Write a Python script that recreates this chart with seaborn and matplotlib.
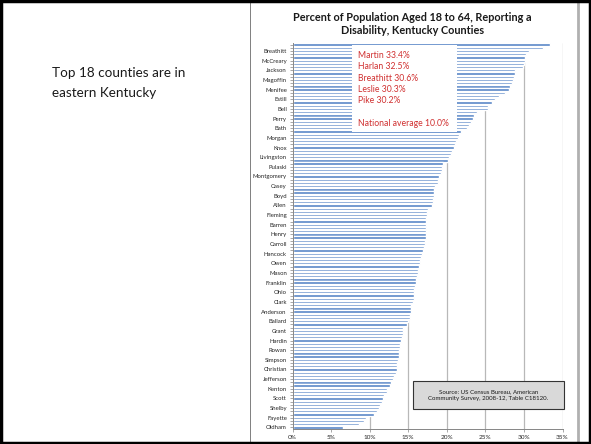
import numpy as np
import pandas as pd
import matplotlib
matplotlib.use("Agg")
import matplotlib.pyplot as plt
from matplotlib.patches import Rectangle
from matplotlib.lines import Line2D
from matplotlib.ticker import PercentFormatter
import seaborn as sns

# percent of population 18-64 reporting a disability, ranked high -> low (120 counties)
pct = [33.4, 32.5, 30.6, 30.3, 30.2, 30.1, 30.0, 29.9, 28.9, 28.8,
       28.7, 28.6, 28.5, 28.2, 28.0, 27.5, 26.8, 26.2, 25.9, 25.4,
       25.3, 23.9, 23.5, 23.4, 23.2, 22.9, 22.6, 21.8, 21.6, 21.4,
       21.2, 21.0, 20.9, 20.7, 20.5, 20.3, 20.2, 19.5, 19.4, 19.35,
       19.3, 19.0, 18.9, 18.8, 18.5, 18.35, 18.35, 18.3, 18.25, 18.2,
       18.1, 17.5, 17.45, 17.4, 17.35, 17.3, 17.3, 17.3, 17.25, 17.25,
       17.25, 17.2, 17.15, 17.0, 16.9, 16.8, 16.6, 16.5, 16.5, 16.45,
       16.3, 16.3, 16.2, 16.0, 15.95, 15.9, 15.8, 15.8, 15.8, 15.7,
       15.6, 15.4, 15.35, 15.3, 15.25, 15.2, 14.95, 14.8, 14.35, 14.35,
       14.3, 14.2, 14.05, 13.9, 13.9, 13.85, 13.8, 13.75, 13.7, 13.6,
       13.5, 13.5, 13.4, 13.15, 13.0, 12.8, 12.7, 12.2, 12.2, 11.9,
       11.75, 11.6, 11.4, 11.2, 11.0, 10.5, 9.5, 9.3, 8.6, 6.6]

# every third county is labelled on the axis
labelled = ["Breathitt", "McCreary", "Jackson", "Magoffin", "Menifee", "Estill",
            "Bell", "Perry", "Bath", "Morgan", "Knox", "Livingston", "Pulaski",
            "Montgomery", "Casey", "Boyd", "Allen", "Fleming", "Barren", "Henry",
            "Carroll", "Hancock", "Owen", "Mason", "Franklin", "Ohio", "Clark",
            "Anderson", "Ballard", "Grant", "Hardin", "Rowan", "Simpson",
            "Christian", "Jefferson", "Kenton", "Scott", "Shelby", "Fayette",
            "Oldham"]

top5 = ["Martin 33.4%", "Harlan 32.5%", "Breathitt 30.6%", "Leslie 30.3%",
        "Pike 30.2%"]
national = "National average 10.0%"
side_note = ["Top 18 counties are in", "eastern Kentucky"]

df = pd.DataFrame({"rank": np.arange(len(pct)), "pct": pct})

sns.set_style("white")
plt.rcParams["font.family"] = ["Lato", "DejaVu Sans"]

W, H = 591, 444
fig = plt.figure(figsize=(W / 100, H / 100), dpi=100)
ax = fig.add_axes([292.5 / W, 1 - 429 / H, 270 / W, 386 / H])

sns.barplot(data=df, x="pct", y="rank", orient="h", color="#5785C6",
            width=0.72, saturation=1, ax=ax)

ax.set_xlim(0, 35)
ax.set_xticks(range(0, 36, 5))
ax.xaxis.set_major_formatter(PercentFormatter(decimals=0))
ax.grid(axis="x", color="#b8b8b8", lw=0.9)
ax.set_axisbelow(True)

ticklabels = [""] * len(pct)
for i, name in zip(range(2, len(pct), 3), labelled):
    ticklabels[i] = name
ax.set_yticks(range(len(pct)))
ax.set_yticklabels(ticklabels)
ax.set_xlabel("")
ax.set_ylabel("")
ax.tick_params(axis="y", length=2, width=0.5, color="#868686", pad=2,
               labelsize=4.3, left=True)
ax.tick_params(axis="x", length=2, width=0.5, color="#868686", pad=2,
               labelsize=4.6, bottom=True)
for s in ["top", "right"]:
    ax.spines[s].set_visible(False)
for s in ["left", "bottom"]:
    ax.spines[s].set_color("#868686")
    ax.spines[s].set_linewidth(0.7)

# title
fig.text(412.5 / W, 1 - 24 / H,
         "Percent of Population Aged 18 to 64, Reporting a\nDisability, Kentucky Counties",
         ha="center", va="center", fontsize=7.8, fontweight="bold",
         linespacing=1.2, color="#1a1a1a")

# white callout box with the top counties
fig.add_artist(Rectangle((352 / W, 1 - 132 / H), 105 / W, 87 / H,
                         transform=fig.transFigure, fc="white", ec="none",
                         zorder=2))
for k, line in enumerate(top5):
    fig.text(358 / W, 1 - (55.5 + 11.3 * k) / H, line, ha="left", va="center",
             fontsize=6.2, color="#d03030", zorder=3)
fig.text(358 / W, 1 - 123 / H, national, ha="left", va="center",
         fontsize=6.2, color="#d03030", zorder=3)

# source box
fig.add_artist(Rectangle((413 / W, 1 - 409 / H), 151 / W, 28 / H,
                         transform=fig.transFigure, fc="#d9d9d9", ec="#333333",
                         lw=0.8, zorder=2))
fig.text(488.5 / W, 1 - 395 / H,
         "Source: US Census Bureau, American\nCommunity Survey, 2008-12, Table C18120.",
         ha="center", va="center", fontsize=4.4, color="#1a1a1a",
         linespacing=1.4, zorder=3)

# slide text
for k, line in enumerate(side_note):
    fig.text(52 / W, 1 - (73 + 20 * k) / H, line, ha="left", va="center",
             fontsize=9.7, color="#1a1a1a")

# slide frame
fig.add_artist(Line2D([249.5 / W, 249.5 / W], [0, 1], transform=fig.transFigure,
                      color="#7f7f7f", lw=0.7))
fig.add_artist(Line2D([578 / W, 578 / W], [0, 1], transform=fig.transFigure,
                      color="#b0b0b0", lw=2.0))
fig.add_artist(Rectangle((1 / W, 1 / H), 1 - 2 / W, 1 - 2 / H,
                         transform=fig.transFigure, fc="none", ec="black",
                         lw=2.5, zorder=5))

fig.savefig("out.png", dpi=100)
